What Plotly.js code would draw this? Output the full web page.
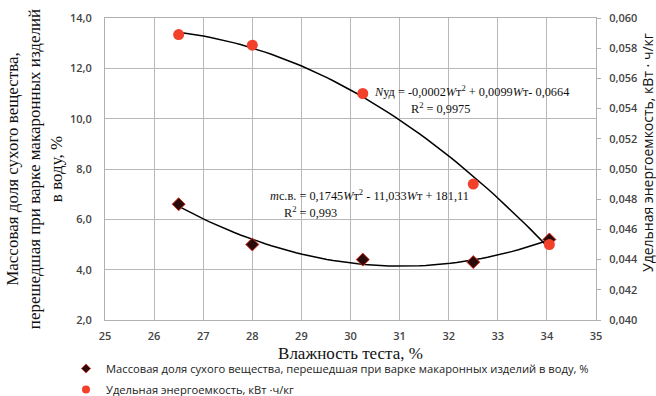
<!DOCTYPE html>
<html><head><meta charset="utf-8">
<script src="https://cdn.plot.ly/plotly-3.0.1.min.js"></script>
<style>html,body{margin:0;padding:0;background:#fff}#c{width:656px;height:396px}</style>
</head><body><div id="c"></div>
<script>
// Data
const moistureMass = [26.5, 28.0, 30.25, 32.5, 34.05];
const massShare = [6.6, 5.0, 4.4, 4.3, 5.2];
const moistureEnergy = [26.5, 28.0, 30.25, 32.5, 34.05];
const energy = [0.0589, 0.0582, 0.0550, 0.0490, 0.0450];
const xTicks = [25,26,27,28,29,30,31,32,33,34,35];
const seriesNames = ['Массовая доля сухого вещества, перешедшая при варке макаронных изделий в воду, %',
                     'Удельная энергоемкость, кВт ·ч/кг'];

// least squares quadratic fit (trendline, as in the source chart)
function quadFit(xs, ys){
  let S=[0,0,0,0,0], T=[0,0,0];
  for(let i=0;i<xs.length;i++){
    let p=1;
    for(let k=0;k<5;k++){S[k]+=p; if(k<3) T[k]+=p*ys[i]; p*=xs[i];}
  }
  let A=[[S[0],S[1],S[2],T[0]],[S[1],S[2],S[3],T[1]],[S[2],S[3],S[4],T[2]]];
  for(let i=0;i<3;i++){
    for(let j=i+1;j<3;j++){const f=A[j][i]/A[i][i]; for(let k=i;k<4;k++) A[j][k]-=f*A[i][k];}
  }
  let c=[0,0,0];
  for(let i=2;i>=0;i--){let s=A[i][3]; for(let k=i+1;k<3;k++) s-=A[i][k]*c[k]; c[i]=s/A[i][i];}
  return c;
}
function curve(xs, ys){
  const c=quadFit(xs,ys); const a=xs[0], b=xs[xs.length-1];
  const X=[],Y=[];
  for(let i=0;i<=60;i++){const x=a+(b-a)*i/60; X.push(x); Y.push(c[0]+c[1]*x+c[2]*x*x);}
  return {X,Y};
}
const cm = curve(moistureMass, massShare);
const ce = curve(moistureEnergy, energy);

const diamond = {symbol:'diamond', size:10, color:'#2a0a0a', line:{color:'#d9301f', width:1}};
const circle = {symbol:'circle', size:11, color:'#f2402a'};
const traces = [
  {x: cm.X, y: cm.Y, mode:'lines', line:{color:'#000', width:1.5}, showlegend:false, hoverinfo:'skip'},
  {x: ce.X, y: ce.Y, yaxis:'y2', mode:'lines', line:{color:'#000', width:1.5}, showlegend:false, hoverinfo:'skip'},
  {x: moistureMass, y: massShare, mode:'markers', showlegend:false, name:seriesNames[0], marker:diamond},
  {x: moistureEnergy, y: energy, yaxis:'y2', mode:'markers', showlegend:false, name:seriesNames[1], marker:circle},
  // legend entries (smaller legend symbols as in the reference)
  {x:[null], y:[null], mode:'markers', legendgroup:'a', name:seriesNames[0],
   marker:{symbol:'diamond', size:7, color:'#2a0a0a', line:{color:'#d9301f', width:0.8}}},
  {x:[null], y:[null], mode:'markers', legendgroup:'b', name:seriesNames[1],
   marker:{symbol:'circle', size:8, color:'#f2402a'}}
];

const sans = '"Open Sans", "Liberation Sans", sans-serif';
const tickFont = {family:sans, size:11, color:'#444', weight:600};
const serif = '"Liberation Serif", "DejaVu Serif", serif';
const PL=105, PW=491, PT=18, PH=302;
const px = v => (v-PL)/PW, py = v => (PT+PH-v)/PH;
const layout = {
  width:656, height:396,
  margin:{l:105, r:60, t:18, b:76, autoexpand:false},
  paper_bgcolor:'#fff', plot_bgcolor:'#fff',
  separators:', ',
  showlegend:true,
  legend:{x:px(66), xanchor:'left', y:py(354), yanchor:'top', orientation:'v',
    font:{family:sans, size:11.2, color:'#222'},
    tracegroupgap:2, itemwidth:30, bgcolor:'rgba(0,0,0,0)'},
  xaxis:{range:[25,35], tickvals:xTicks, ticktext:xTicks.map(String), showgrid:true, gridcolor:'#b8b8b8', gridwidth:1,
    showline:true, linecolor:'#b0b0b0', mirror:true, zeroline:false, tickfont:tickFont, ticks:'', ticklabelstandoff:6,
    title:{text:'Влажность теста, %', font:{family:serif, size:17, color:'#111'}, standoff:4}},
  yaxis:{range:[2,14], dtick:2, tickformat:'.1f', showgrid:true, gridcolor:'#b8b8b8', gridwidth:1,
    showline:true, linecolor:'#b0b0b0', zeroline:false, tickfont:tickFont, ticks:'', ticklabelstandoff:10,
    title:{text:'Массовая доля сухого вещества,<br>перешедшая при варке макаронных изделий<br>в воду, %', font:{family:serif, size:17, color:'#111'}, standoff:2}},
  yaxis2:{range:[0.040,0.060], dtick:0.002, tickformat:'.3f', overlaying:'y', side:'right', showgrid:false,
    showline:true, linecolor:'#b0b0b0', zeroline:false, tickfont:tickFont, ticks:'outside', ticklen:4, tickcolor:'#b0b0b0', ticklabelstandoff:6},
  annotations:[
    {xref:'paper', yref:'paper', x:px(648), y:py(153), xanchor:'center', yanchor:'middle', textangle:-90, showarrow:false,
     text:'Удельная энергоемкость, кВт · ч/кг', font:{family:sans, size:14, color:'#111'}},
    {xref:'paper', yref:'paper', x:px(372), y:py(91), xanchor:'left', yanchor:'middle', showarrow:false,
     text:'<i>N</i>уд = -0,0002<i>W</i>т<sup>2</sup> + 0,0099<i>W</i>т- 0,0664', font:{family:serif, size:12.3, color:'#111'}},
    {xref:'paper', yref:'paper', x:px(440), y:py(108), xanchor:'center', yanchor:'middle', showarrow:false,
     text:'R<sup>2</sup> = 0,9975', font:{family:serif, size:12.3, color:'#111'}},
    {xref:'paper', yref:'paper', x:px(268), y:py(195), xanchor:'left', yanchor:'middle', showarrow:false,
     text:'<i>m</i>с.в. = 0,1745<i>W</i>т<sup>2</sup> - 11,033<i>W</i>т + 181,11', font:{family:serif, size:12.3, color:'#111'}},
    {xref:'paper', yref:'paper', x:px(310), y:py(212), xanchor:'center', yanchor:'middle', showarrow:false,
     text:'R<sup>2</sup> = 0,993', font:{family:serif, size:12.3, color:'#111'}}
  ]
};
Plotly.newPlot('c', traces, layout, {displayModeBar:false, staticPlot:true});
</script>
</body></html>
